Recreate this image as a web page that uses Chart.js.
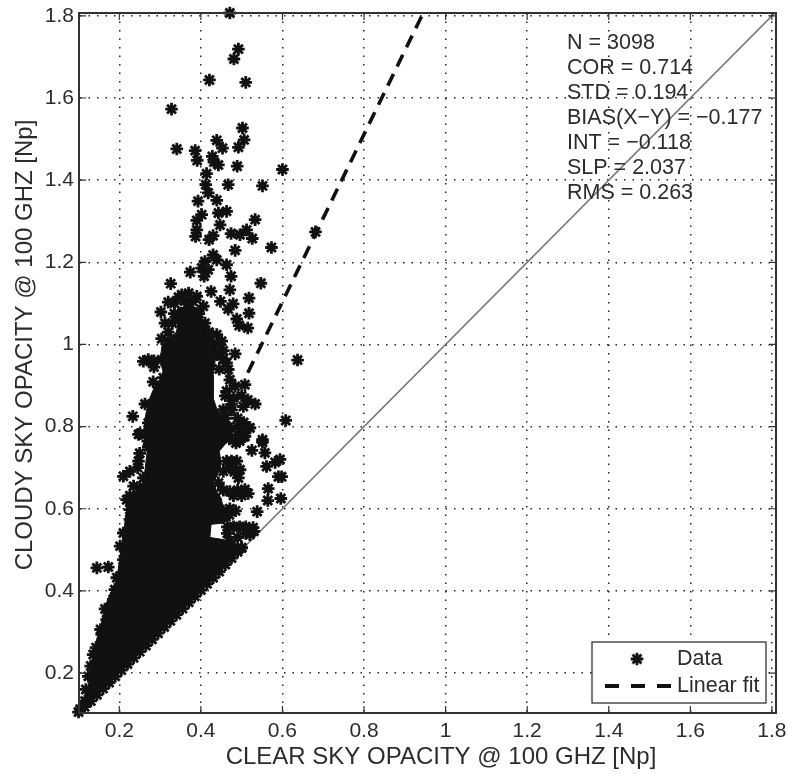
<!DOCTYPE html>
<html>
<head>
<meta charset="utf-8">
<title>Opacity scatter</title>
<script src="https://cdn.jsdelivr.net/npm/chart.js@4"></script>
<style>
  html, body { margin: 0; padding: 0; background: #fff; }
  #wrap { width: 788px; height: 774px; }
  canvas { filter: blur(0.45px); }
</style>
</head>
<body>
<div id="wrap"><canvas id="opacityChart" width="788" height="774"></canvas></div>
<script>
// values
const xTicks = [0.2, 0.4, 0.6, 0.8, 1, 1.2, 1.4, 1.6, 1.8];
const yTicks = [0.2, 0.4, 0.6, 0.8, 1, 1.2, 1.4, 1.6, 1.8];
const xTitle = 'CLEAR SKY OPACITY @ 100 GHZ [Np]';
const yTitle = 'CLOUDY SKY OPACITY @ 100 GHZ [Np]';
const statLines = ['N = 3098', 'COR = 0.714', 'STD = 0.194', 'BIAS(X\u2212Y) = \u22120.177', 'INT = \u22120.118', 'SLP = 2.037', 'RMS = 0.263'];
const legendNames = ['Data', 'Linear fit'];

// isolated points above the main cloud
const topX = [.471,.492,.481,.421,.510,.328,.502,.506,.439,.453,.492,.341,.386,.391,.428,.432,.443,.489,.600,.414,.412,.467,.551,.418,.393,.439,.463,.443,.402,.390,.447,.533,.390,.387,.430,.420,.474,.496,.512,.526,.573,.681,.484,.430,.410,.439,.463,.402,.418,.408,.374,.474,.547,.326,.471,.425,.518,.448,.479,.467,.518,.488,.494,.515,.484,.637,.608];
const topY = [1.807,1.719,1.695,1.644,1.638,1.573,1.527,1.498,1.497,1.478,1.480,1.476,1.472,1.448,1.458,1.444,1.437,1.434,1.426,1.416,1.389,1.389,1.386,1.369,1.349,1.351,1.324,1.320,1.316,1.302,1.291,1.304,1.279,1.263,1.265,1.255,1.270,1.267,1.279,1.258,1.236,1.274,1.229,1.218,1.202,1.206,1.194,1.186,1.182,1.166,1.176,1.166,1.149,1.148,1.133,1.129,1.113,1.105,1.099,1.086,1.076,1.062,1.046,1.040,.977,.962,.815];

// upper part of the cloud
const treeX = [.353,.390,.320,.406,.302,.312,.410,.439,.304,.451,.271,.259,.304,.463,.467,.283,.308,.471,.508,.484,.463,.263,.292,.533,.504,.475,.455,.233,.271,.251,.520,.551, .335,.370,.335,.375,.395,.330,.345,.420,.320,.285,.445,.455,.285,.320,.440,.455,.445,.300,.320,.460,.480,.500,.515,.280,.460,.285,.490,.505,.475,.345,.370,.360,.380,.320];
const treeY = [1.121,1.117,1.103,1.093,1.079,1.052,1.052,1.024,1.014,1.008,.963,.959,.963,.955,.939,.909,.919,.914,.902,.898,.886,.855,.870,.855,.849,.854,.841,.825,.809,.783,.797,.768, 1.100,1.100,1.075,1.080,1.075,1.052,1.060,1.030,1.030,.945,1.000,.985,.960,.965,.975,.965,.940,.890,.895,.875,.870,.875,.865,.850,.820,.815,.820,.810,.840,1.115,1.125,1.105,1.105,1.010];

// right fringe, down to the shelf at 0.55
const rightX = [.520,.508,.486,.551,.525,.557,.594,.582,.561,.598,.590,.488,.496,.463,.455,.492,.443,.508,.516,.471,.565,.564,.596,.538,.471,.528,.520,.500, .490,.505,.495,.475,.510,.495,.480,.465,.465,.510,.530,.490,.470,.455,.490,.470,.490,.505,.475,.485,.470,.455,.470,.482,.480,.500];
const rightY = [.797,.776,.760,.762,.742,.736,.720,.713,.703,.678,.678,.716,.695,.716,.691,.675,.663,.647,.637,.642,.649,.620,.625,.593,.600,.554,.537,.505, .800,.790,.765,.716,.556,.556,.556,.556,.540,.540,.545,.530,.520,.645,.645,.770,.780,.775,.795,.595,.585,.595,.700,.690,.632,.632];

// left fringe of the cloud
const leftX = [.104,.116,.118,.124,.130,.136,.143,.157,.154,.169,.165,.185,.189,.194,.202,.210,.202,.210,.226,.226,.218,.226,.210,.226,.247,.259,.271,.247,.145,.173, .235,.240,.250,.245,.250,.270];
const leftY = [.112,.132,.160,.192,.217,.245,.262,.294,.306,.330,.356,.379,.403,.432,.436,.476,.509,.541,.574,.598,.622,.632,.679,.691,.716,.675,.751,.781,.456,.458, .655,.615,.650,.700,.735,.765];

// lower edge, the cloud sits on the 1:1 line
const lowerX = [.10,.115,.13,.145,.16,.175,.19,.205,.22,.235,.25,.265,.28,.295,.31,.325,.34,.355,.37,.385,.40,.415,.43,.445,.46,.475,.49,.50];
const lowerY = [.105,.118,.132,.147,.162,.177,.192,.207,.222,.237,.252,.267,.282,.297,.312,.327,.342,.357,.372,.387,.402,.417,.432,.447,.464,.480,.495,.505];

// outline of the part of the cloud too dense to tell points apart
const coreX = [.104,.128,.136,.153,.165,.194,.210,.222,.260,.268,.260,.265,.275,.290,.310,.300,.305,.340,.345,.345,.390,.410,.440,.435,.430,.430,.440,.460,.480,.470,.445,.450,.440,.430,.440,.450,.455,.485,.470,.455,.425,.422,.455,.500,.463,.300,.200,.110];
const coreY = [.112,.184,.257,.306,.363,.428,.541,.620,.668,.737,.790,.830,.870,.905,.925,.960,1.000,1.030,1.060,1.090,1.090,1.050,1.000,.960,.925,.870,.840,.820,.800,.770,.740,.710,.680,.665,.640,.625,.600,.595,.575,.565,.562,.530,.525,.510,.469,.305,.205,.115];

// straight lines
const fitX = [0.515, 0.9416];
const fitY = [0.931, 1.8];
const unityX = [0.1, 1.81];
const unityY = [0.1, 1.81];

const toPoints = (xs, ys) => xs.map((x, i) => ({ x: x, y: ys[i] }));
const inkColor = '#111';
const textColor = '#2c2c2c';
const fontName = '"Liberation Sans", Arial, sans-serif';

const annotations = {
    id: 'annotations',
    afterDraw(chart) {
        const ctx = chart.ctx;
        const area = chart.chartArea;
        ctx.save();

        // inward ticks on all four sides
        ctx.strokeStyle = '#333';
        ctx.lineWidth = 1.2;
        ctx.beginPath();
        xTicks.forEach(v => {
            const p = chart.scales.x.getPixelForValue(v);
            ctx.moveTo(p, area.bottom); ctx.lineTo(p, area.bottom - 7);
            ctx.moveTo(p, area.top); ctx.lineTo(p, area.top + 7);
        });
        yTicks.forEach(v => {
            const p = chart.scales.y.getPixelForValue(v);
            ctx.moveTo(area.left, p); ctx.lineTo(area.left + 7, p);
            ctx.moveTo(area.right, p); ctx.lineTo(area.right - 7, p);
        });
        ctx.stroke();

        // stats block
        ctx.fillStyle = textColor;
        ctx.font = '21.5px ' + fontName;
        ctx.textBaseline = 'middle';
        ctx.textAlign = 'left';
        statLines.forEach((line, i) => ctx.fillText(line, 567, 43 + i * 25));

        // axis titles
        ctx.textAlign = 'center';
        ctx.font = '24px ' + fontName;
        ctx.fillText(xTitle, 441, 757);
        ctx.save();
        ctx.translate(25, 345);
        ctx.rotate(-Math.PI / 2);
        ctx.fillText(yTitle, 0, 0);
        ctx.restore();

        // legend box
        ctx.fillStyle = '#fff';
        ctx.strokeStyle = '#333';
        ctx.lineWidth = 1.3;
        ctx.fillRect(592, 642, 174, 61);
        ctx.strokeRect(592, 642, 174, 61);
        ctx.fillStyle = inkColor;
        ctx.strokeStyle = inkColor;
        ctx.lineWidth = 2.8;
        Chart.helpers.drawPoint(ctx, { pointStyle: 'star', radius: 6.3, borderWidth: 2.8 }, 637, 659);
        ctx.lineWidth = 3.8;
        ctx.setLineDash([14, 12]);
        ctx.beginPath();
        ctx.moveTo(605, 686);
        ctx.lineTo(671, 686);
        ctx.stroke();
        ctx.setLineDash([]);
        ctx.fillStyle = textColor;
        ctx.font = '21.5px ' + fontName;
        ctx.textAlign = 'left';
        ctx.fillText(legendNames[0], 677, 659);
        ctx.fillText(legendNames[1], 677, 686);
        ctx.restore();
    }
};

const tickOptions = {
    color: textColor,
    font: { family: fontName, size: 21 },
    maxRotation: 0,
    autoSkip: false,
    callback: value => String(value)
};

const gridOptions = {
    color: '#222',
    lineWidth: 1.5,
    drawTicks: false
};

new Chart(document.getElementById('opacityChart'), {
    type: 'scatter',
    data: {
        datasets: [
            {
                label: legendNames[0],
                data: toPoints(topX.concat(treeX, rightX, leftX, lowerX), topY.concat(treeY, rightY, leftY, lowerY)),
                pointStyle: 'star',
                pointRadius: 6.3,
                pointBorderWidth: 2.8,
                borderColor: inkColor,
                backgroundColor: inkColor,
                clip: false,
                order: 1
            },
            {
                label: 'cloud core',
                data: toPoints(coreX, coreY),
                showLine: true,
                fill: 'shape',
                pointRadius: 0,
                borderWidth: 1,
                borderColor: inkColor,
                backgroundColor: inkColor,
                order: 2
            },
            {
                label: legendNames[1],
                data: toPoints(fitX, fitY),
                showLine: true,
                pointRadius: 0,
                borderWidth: 3.6,
                borderDash: [13, 8.3],
                borderColor: inkColor,
                order: 3
            },
            {
                label: '1:1',
                data: toPoints(unityX, unityY),
                showLine: true,
                pointRadius: 0,
                borderWidth: 1.6,
                borderColor: '#777',
                order: 4
            }
        ]
    },
    options: {
        responsive: false,
        animation: false,
        layout: { padding: { top: 13, right: 12, left: 0, bottom: 0 } },
        plugins: { legend: { display: false }, tooltip: { enabled: false } },
        scales: {
            x: {
                type: 'linear',
                min: 0.1012,
                max: 1.81,
                afterBuildTicks: scale => { scale.ticks = xTicks.map(v => ({ value: v })); },
                afterFit: scale => { scale.height = 61; scale.paddingRight = 0; scale.paddingLeft = 0; },
                ticks: Object.assign({ padding: 6 }, tickOptions),
                grid: gridOptions,
                border: { display: true, color: '#333', width: 2, dash: [1.5, 7] }
            },
            y: {
                type: 'linear',
                min: 0.1027,
                max: 1.807,
                afterBuildTicks: scale => { scale.ticks = yTicks.map(v => ({ value: v })); },
                afterFit: scale => { scale.width = 79; scale.paddingTop = 0; scale.paddingBottom = 0; },
                ticks: Object.assign({ padding: 5 }, tickOptions),
                grid: gridOptions,
                border: { display: true, color: '#333', width: 2, dash: [1.5, 7] }
            }
        }
    },
    plugins: [annotations, {
        id: 'frame',
        afterDatasetsDraw(chart) {
            const a = chart.chartArea;
            const ctx = chart.ctx;
            ctx.save();
            ctx.strokeStyle = '#333';
            ctx.lineWidth = 2;
            ctx.strokeRect(a.left, a.top, a.right - a.left, a.bottom - a.top);
            ctx.restore();
        }
    }]
});
</script>
</body>
</html>
